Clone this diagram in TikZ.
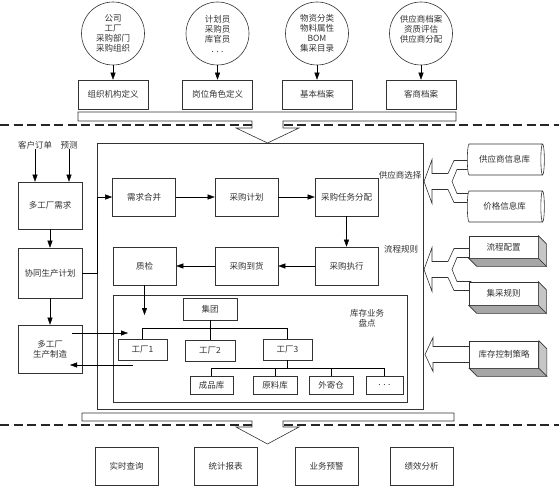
\documentclass[tikz,border=0pt]{standalone}
\usepackage{fontspec}
\newfontfamily\cjk{Noto Sans CJK SC}
\usetikzlibrary{arrows.meta,shapes.geometric,calc}

\tikzset{
  box/.style={draw=black!80, line width=0.6pt, fill=white, inner sep=1pt, align=center, text=black!80, font=\cjk\fontsize{8.5}{10}\selectfont},
  lbl/.style={inner sep=0pt, align=center, text=black!80, font=\cjk\fontsize{8.5}{10}\selectfont},
  bubble/.style={box, circle, minimum size=63pt, inner sep=0pt},
  topbox/.style={box, minimum width=70pt, minimum height=29pt},
  proc/.style={box, minimum width=63pt, minimum height=38pt},
  frame/.style={draw=black!80, line width=0.6pt},
  fat/.style={draw=black!80, line width=0.6pt, fill=white},
  sep/.style={black!85, line width=1.1pt, dash pattern=on 9pt off 4.5pt},
  db/.style={box, cylinder, aspect=0.35, minimum width=31pt, minimum height=77pt},
  slab/.style={box, minimum width=69pt}
}
\newcommand\slabdepth[1]{%
  \filldraw[draw=black!80, line width=0.6pt, fill=gray!45] (#1.north east) -- ++(8,8) -- ($(#1.south east)+(8,8)$) -- (#1.south east) -- cycle;
  \filldraw[draw=black!80, line width=0.6pt, fill=gray!70] (#1.south west) -- ++(8,8) -- ($(#1.south east)+(8,8)$) -- (#1.south east) -- cycle;
}

\begin{document}
\begin{tikzpicture}[x=1pt,y=1pt,yscale=-1,>={Triangle[length=7pt,width=5pt]}]
\useasboundingbox (0,0) rectangle (559,487);

% dashed separators
\draw[sep] (0,125) -- (559,125);
\draw[sep] (0,425) -- (559,425);

% fat arrows between the layers
\draw[fat] (78,112) -- (456,112) -- (456,121) -- (283,121) -- (283,128) -- (299,128) -- (267.5,143) -- (236,128) -- (252,128) -- (252,121) -- (78,121) -- cycle;
\draw[fat] (82,413) -- (454,413) -- (454,421) -- (283,421) -- (283,427) -- (299,427) -- (267.5,444) -- (236,427) -- (252,427) -- (252,421) -- (82,421) -- cycle;

% base data
\node[bubble] (orgsrc) at (113,33.5) {公司\\工厂\\采购部门\\采购组织};
\node[bubble] (rolesrc) at (217.5,33.5) {计划员\\采购员\\库官员\\. . .};
\node[bubble] (basesrc) at (317,33.5) {物资分类\\物料属性\\BOM\\集采目录};
\node[bubble] (partsrc) at (421,33.5) {供应商档案\\资质评估\\供应商分配\\~};
\node[topbox] (orgdef) at (113,94.5) {组织机构定义};
\node[topbox] (roledef) at (217.5,94.5) {岗位角色定义};
\node[topbox] (basedef) at (317,94.5) {基本档案};
\node[topbox] (partdef) at (421,94.5) {客商档案};
\foreach \a/\b in {orgsrc/orgdef, rolesrc/roledef, basesrc/basedef, partsrc/partdef}
  \draw[->] (\a) -- (\b);

% left column
\node[lbl] (order) at (35,145) {客户订单};
\node[lbl] (forecast) at (69,145) {预测};
\node[box, minimum width=64pt, minimum height=47pt] (demand) at (50,205.5) {多工厂需求};
\node[box, minimum width=64pt, minimum height=50pt] (plan) at (50,273) {协同生产计划};
\node[box, minimum width=64pt, minimum height=48pt] (mfg) at (50,349) {多工厂\\生产制造};
\draw[->] (order.south) -- (order.south |- demand.north);
\draw[->] (forecast.south) -- (forecast.south |- demand.north);
\draw[->] (demand) -- (plan);
\draw[->] (plan) -- (mfg);

% purchasing core
\node[frame, minimum width=326pt, minimum height=266pt] (core) at (260,276) {};
\node[frame, minimum width=294pt, minimum height=107pt] (stock) at (260,348.5) {};
\node[proc] (merge) at (144,197) {需求合并};
\node[proc] (pplan) at (246.5,197) {采购计划};
\node[proc] (assign) at (346.5,197) {采购任务分配};
\node[proc] (exec) at (346.5,266) {采购执行};
\node[proc] (arrive) at (246.5,266) {采购到货};
\node[proc] (qc) at (144.5,266) {质检};
\draw[->] (merge) -- (pplan);
\draw[->] (pplan) -- (assign);
\draw[->] (assign) -- (exec);
\draw[->] (exec) -- (arrive);
\draw[->] (arrive) -- (qc);
\draw[->] (plan.east) -- (plan.east -| core.west) |- (merge.west);
\coordinate (qcend) at (144.5,315);
\draw[->] (qc) -- (qcend);

% stock tree
\node[lbl] (stocklbl) at (367,318) {库存业务\\盘点};
\node[box, minimum width=54pt, minimum height=22pt] (group) at (210,309) {集团};
\node[box, minimum width=49pt, minimum height=21pt] (f1) at (142.5,349.5) {工厂1};
\node[box, minimum width=50pt, minimum height=21pt] (f2) at (210,351) {工厂2};
\node[box, minimum width=49pt, minimum height=21pt] (f3) at (287.5,349.5) {工厂3};
\draw (group.south) -- ++(0,8) coordinate (gbus);
\draw (f1.north) |- (gbus) -| (f3.north);
\draw (gbus) -- (f2.north);
\node[box, minimum width=43pt, minimum height=18pt] (w1) at (211.5,385) {成品库};
\node[box, minimum width=44pt, minimum height=18pt] (w2) at (275,385) {原料库};
\node[box, minimum width=44pt, minimum height=18pt] (w3) at (331,385) {外寄仓};
\node[box, minimum width=37pt, minimum height=18pt] (w4) at (384.5,385) {. . .};
\draw (f3.south) -- ++(0,8) coordinate (wbus);
\draw (w1.north) |- (wbus) -| (w4.north);
\draw (w2.north) -- (w2.north |- wbus);
\draw (w3.north) -- (w3.north |- wbus);

% manufacturing in and out
\coordinate (mfgout) at (72,333);
\coordinate (invin) at (128,333);
\coordinate (invout) at (133,365);
\coordinate (mfgin) at (70,365);
\draw[->] (mfgout) -- (invin);
\draw[->] (invout) -- (mfgin);

% right side inputs
\foreach \cy/\ex in {181.5/469, 269.5/471}
  \draw[fat] (424,\cy) -- (432,\cy-22) -- (432,\cy-8) -- (448,\cy-8) -- (454,\cy-21) -- (\ex,\cy-21) -- (\ex,\cy-12) -- (457,\cy-12) -- (452,\cy) -- (457,\cy+12) -- (\ex,\cy+12) -- (\ex,\cy+21) -- (454,\cy+21) -- (448,\cy+8) -- (432,\cy+8) -- (432,\cy+22) -- cycle;
\draw[fat] (425,354.5) -- (433,337.5) -- (433,346.5) -- (472,346.5) -- (472,362.5) -- (433,362.5) -- (433,371.5) -- cycle;
\node[lbl] (supsel) at (400,175) {供应商选择};
\node[lbl] (flowrule) at (401,249) {流程规则};
\node[db] (supdb) at (504.5,159.5) {供应商信息库};
\node[db] (pricedb) at (504.5,206.5) {价格信息库};
\node[slab, minimum height=22pt] (flowcfg) at (503.5,247) {流程配置};
\node[slab, minimum height=23pt] (grprule) at (503.5,293.5) {集采规则};
\node[slab, minimum height=27pt] (stockpol) at (504,354.5) {库存控制策略};
\slabdepth{flowcfg}
\slabdepth{grprule}
\slabdepth{stockpol}

% output layer
\node[proc] (query) at (126.5,466) {实时查询};
\node[proc] (report) at (225.5,466) {统计报表};
\node[proc] (alert) at (326.5,466) {业务预警};
\node[proc] (perf) at (421.5,466) {绩效分析};

\end{tikzpicture}
\end{document}
